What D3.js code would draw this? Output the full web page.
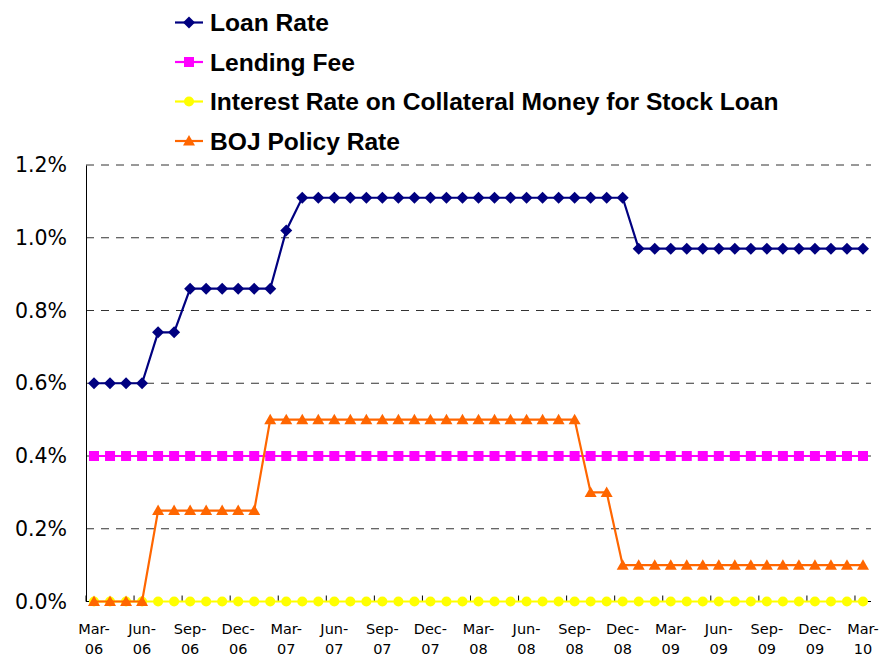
<!DOCTYPE html>
<html>
<head>
<meta charset="utf-8">
<script src="https://cdn.jsdelivr.net/npm/d3@7"></script>
<style>
  html, body { margin: 0; padding: 0; background: #fff; }
  svg { display: block; }
</style>
</head>
<body>
<svg id="chart" width="881" height="659"></svg>
<script>
// ---------------- DATA ----------------
const categories = [
  "Mar-06","Apr-06","May-06","Jun-06","Jul-06","Aug-06","Sep-06","Oct-06","Nov-06","Dec-06","Jan-07","Feb-07",
  "Mar-07","Apr-07","May-07","Jun-07","Jul-07","Aug-07","Sep-07","Oct-07","Nov-07","Dec-07","Jan-08","Feb-08",
  "Mar-08","Apr-08","May-08","Jun-08","Jul-08","Aug-08","Sep-08","Oct-08","Nov-08","Dec-08","Jan-09","Feb-09",
  "Mar-09","Apr-09","May-09","Jun-09","Jul-09","Aug-09","Sep-09","Oct-09","Nov-09","Dec-09","Jan-10","Feb-10",
  "Mar-10"
];
const loanRate = [
  0.6,0.6,0.6,0.6,0.74,0.74,0.86,0.86,0.86,0.86,0.86,0.86,
  1.02,1.11,1.11,1.11,1.11,1.11,1.11,1.11,1.11,1.11,1.11,1.11,
  1.11,1.11,1.11,1.11,1.11,1.11,1.11,1.11,1.11,1.11,0.97,0.97,
  0.97,0.97,0.97,0.97,0.97,0.97,0.97,0.97,0.97,0.97,0.97,0.97,
  0.97
];
const lendingFee = [
  0.4,0.4,0.4,0.4,0.4,0.4,0.4,0.4,0.4,0.4,0.4,0.4,
  0.4,0.4,0.4,0.4,0.4,0.4,0.4,0.4,0.4,0.4,0.4,0.4,
  0.4,0.4,0.4,0.4,0.4,0.4,0.4,0.4,0.4,0.4,0.4,0.4,
  0.4,0.4,0.4,0.4,0.4,0.4,0.4,0.4,0.4,0.4,0.4,0.4,
  0.4
];
const collateralRate = [
  0,0,0,0,0,0,0,0,0,0,0,0,
  0,0,0,0,0,0,0,0,0,0,0,0,
  0,0,0,0,0,0,0,0,0,0,0,0,
  0,0,0,0,0,0,0,0,0,0,0,0,
  0
];
const bojRate = [
  0,0,0,0,0.25,0.25,0.25,0.25,0.25,0.25,0.25,0.5,
  0.5,0.5,0.5,0.5,0.5,0.5,0.5,0.5,0.5,0.5,0.5,0.5,
  0.5,0.5,0.5,0.5,0.5,0.5,0.5,0.3,0.3,0.1,0.1,0.1,
  0.1,0.1,0.1,0.1,0.1,0.1,0.1,0.1,0.1,0.1,0.1,0.1,
  0.1
];
const yTicks = [0, 0.2, 0.4, 0.6, 0.8, 1.0, 1.2];
const seriesNames = ["Loan Rate", "Lending Fee", "Interest Rate on Collateral Money for Stock Loan", "BOJ Policy Rate"];

// ---------------- CHART ----------------
const series = [
  { name: seriesNames[0], values: loanRate,       color: "#000080", marker: "diamond" },
  { name: seriesNames[1], values: lendingFee,     color: "#FF00FF", marker: "square" },
  { name: seriesNames[2], values: collateralRate, color: "#FFFF00", marker: "circle" },
  { name: seriesNames[3], values: bojRate,        color: "#FF6600", marker: "triangle" }
];

const svg = d3.select("#chart");
const pLeft = 86, pRight = 871, pTop = 165, pBottom = 601.5;

const x = d3.scaleBand().domain(d3.range(categories.length)).range([pLeft, pRight]).padding(0);
const cx = i => x(i) + x.bandwidth() / 2;
const y = d3.scaleLinear().domain([0, 1.2]).range([pBottom, pTop]);

// gridlines
svg.append("g").selectAll("line")
  .data(yTicks.filter(t => t > 0))
  .join("line")
  .attr("x1", pLeft).attr("x2", pRight)
  .attr("y1", d => y(d)).attr("y2", d => y(d))
  .attr("stroke", "#333").attr("stroke-width", 1)
  .attr("stroke-dasharray", "8,7");

// y axis
const yAxis = d3.axisLeft(y).tickValues(yTicks).tickSize(0).tickPadding(19)
  .tickFormat(d => d.toFixed(1) + "%");
const yg = svg.append("g").attr("transform", `translate(${pLeft},0)`).call(yAxis);
yg.select(".domain").attr("stroke", "#000").attr("stroke-width", 1);
yg.selectAll("text").attr("font-family", "DejaVu Sans, Verdana, sans-serif")
  .attr("font-size", "20.5px").attr("fill", "#000");

// x axis line and ticks (between categories, every 3)
svg.append("line").attr("x1", pLeft).attr("x2", pRight).attr("y1", pBottom).attr("y2", pBottom)
  .attr("stroke", "#000").attr("stroke-width", 1);
const tickIdx = d3.range(0, categories.length + 1, 3);
svg.append("g").selectAll("line").data(tickIdx).join("line")
  .attr("x1", i => i < categories.length ? x(i) : pRight)
  .attr("x2", i => i < categories.length ? x(i) : pRight)
  .attr("y1", pBottom - 6).attr("y2", pBottom)
  .attr("stroke", "#000").attr("stroke-width", 1);

// x labels
const labIdx = d3.range(0, categories.length, 3);
const xl = svg.append("g").selectAll("text").data(labIdx).join("text")
  .attr("x", i => cx(i)).attr("y", 634)
  .attr("text-anchor", "middle")
  .attr("font-family", "DejaVu Sans, Verdana, sans-serif")
  .attr("font-size", "14.5px").attr("fill", "#000");
xl.append("tspan").attr("x", i => cx(i)).text(i => categories[i].split("-")[0] + "-");
xl.append("tspan").attr("x", i => cx(i)).attr("dy", 20).text(i => categories[i].split("-")[1]);

// marker drawing
function drawMarker(g, type, color, px, py) {
  if (type === "diamond") {
    g.append("path").attr("d", `M${px},${py-6}L${px+6},${py}L${px},${py+6}L${px-6},${py}Z`).attr("fill", color);
  } else if (type === "square") {
    g.append("rect").attr("x", px-5).attr("y", py-5).attr("width", 10).attr("height", 10).attr("fill", color);
  } else if (type === "circle") {
    g.append("circle").attr("cx", px).attr("cy", py).attr("r", 5).attr("fill", color);
  } else if (type === "triangle") {
    g.append("path").attr("d", `M${px},${py-6}L${px+6},${py+4.5}L${px-6},${py+4.5}Z`).attr("fill", color);
  }
}

const line = d3.line().x((d, i) => cx(i)).y(d => y(d));
series.forEach(s => {
  const g = svg.append("g");
  g.append("path").datum(s.values).attr("d", line)
    .attr("fill", "none").attr("stroke", s.color).attr("stroke-width", 2.2);
  s.values.forEach((v, i) => drawMarker(g, s.marker, s.color, cx(i), y(v)));
});

// legend
const legBase = [31, 70.5, 110, 149.5];
series.forEach((s, k) => {
  const g = svg.append("g");
  const ly = legBase[k] - 8.5;
  g.append("line").attr("x1", 175).attr("x2", 203).attr("y1", ly).attr("y2", ly)
    .attr("stroke", s.color).attr("stroke-width", 2.2);
  drawMarker(g, s.marker, s.color, 189, ly);
  g.append("text").attr("x", 210).attr("y", legBase[k])
    .attr("font-family", "Liberation Sans, Arial, sans-serif").attr("font-weight", "bold")
    .attr("font-size", "24.6px").attr("fill", "#000").text(s.name);
});
</script>
</body>
</html>
